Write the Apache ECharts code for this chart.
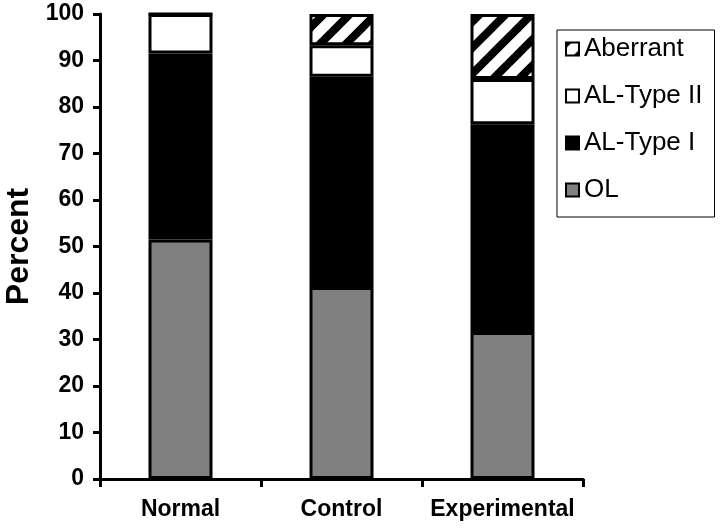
<!DOCTYPE html>
<html>
<head>
<meta charset="utf-8">
<script src="https://cdn.jsdelivr.net/npm/echarts@6/dist/echarts.min.js"></script>
<style>
html,body{margin:0;padding:0;background:#fff;}
#chart{width:720px;height:530px;}
</style>
</head>
<body>
<div id="chart"></div>
<script>
var categories = ['Normal', 'Control', 'Experimental'];
var olValues = [51.5, 41.3, 31.6];
var alType1Values = [40.0, 45.2, 44.7];
var alType2Values = [8.5, 6.8, 9.7];
var aberrantValues = [0, 6.7, 14.0];
var yTicks = [0, 10, 20, 30, 40, 50, 60, 70, 80, 90, 100];

function makeHatch() {
  var s = 26;
  var c = document.createElement('canvas');
  c.width = s; c.height = s;
  var ctx = c.getContext('2d');
  ctx.fillStyle = '#fff';
  ctx.fillRect(0, 0, s, s);
  ctx.strokeStyle = '#000';
  ctx.lineWidth = 8;
  for (var k = -1; k <= 1; k++) {
    ctx.beginPath();
    ctx.moveTo(k * s - s, 2 * s);
    ctx.lineTo(k * s + 2 * s, -s);
    ctx.stroke();
  }
  return c;
}
var hatch = makeHatch();

var chart = echarts.init(document.getElementById('chart'), null, {renderer: 'canvas'});
var FONT = 'Liberation Sans, Arial, sans-serif';
var border = {borderColor: '#000', borderWidth: 3};

function mkSeries(name, data, color) {
  return {
    name: name,
    type: 'bar',
    stack: 'total',
    barWidth: 64,
    data: data,
    itemStyle: Object.assign({color: color}, border),
    emphasis: {disabled: true}
  };
}

chart.setOption({
  animation: false,
  backgroundColor: '#fff',
  grid: {left: 100, right: 137, top: 14, bottom: 51, containLabel: false, outerBoundsMode: 'none'},
  legend: {
    orient: 'vertical',
    left: 557,
    top: 30,
    data: ['Aberrant', 'AL-Type II', 'AL-Type I', 'OL'],
    borderColor: '#000',
    borderWidth: 1,
    padding: [5, 12, 13, 8],
    itemWidth: 13,
    itemHeight: 13,
    itemGap: 19,
    icon: 'rect',
    textStyle: {fontFamily: FONT, fontSize: 26, color: '#000', lineHeight: 28}
  },
  xAxis: {
    type: 'category',
    data: categories,
    axisLine: {lineStyle: {color: '#000', width: 3}},
    axisTick: {show: true, length: 8, lineStyle: {color: '#000', width: 3}, interval: 0},
    axisLabel: {fontFamily: FONT, fontSize: 23, fontWeight: 'bold', color: '#000', margin: 19, interval: 0}
  },
  yAxis: {
    type: 'value',
    min: yTicks[0],
    max: yTicks[yTicks.length - 1],
    interval: 10,
    name: 'Percent',
    nameLocation: 'middle',
    nameGap: 62,
    nameRotate: 90,
    nameTextStyle: {fontFamily: FONT, fontSize: 32, fontWeight: 'bold', color: '#000'},
    axisLine: {show: true, lineStyle: {color: '#000', width: 3}},
    axisTick: {show: true, length: 7, lineStyle: {color: '#000', width: 3}},
    splitLine: {show: false},
    axisLabel: {fontFamily: FONT, fontSize: 23, fontWeight: 'bold', color: '#000', margin: 16}
  },
  series: [
    mkSeries('OL', olValues, '#808080'),
    mkSeries('AL-Type I', alType1Values, '#000'),
    mkSeries('AL-Type II', alType2Values, '#fff'),
    mkSeries('Aberrant', aberrantValues, {image: hatch, repeat: 'repeat'})
  ]
});
</script>
</body>
</html>
